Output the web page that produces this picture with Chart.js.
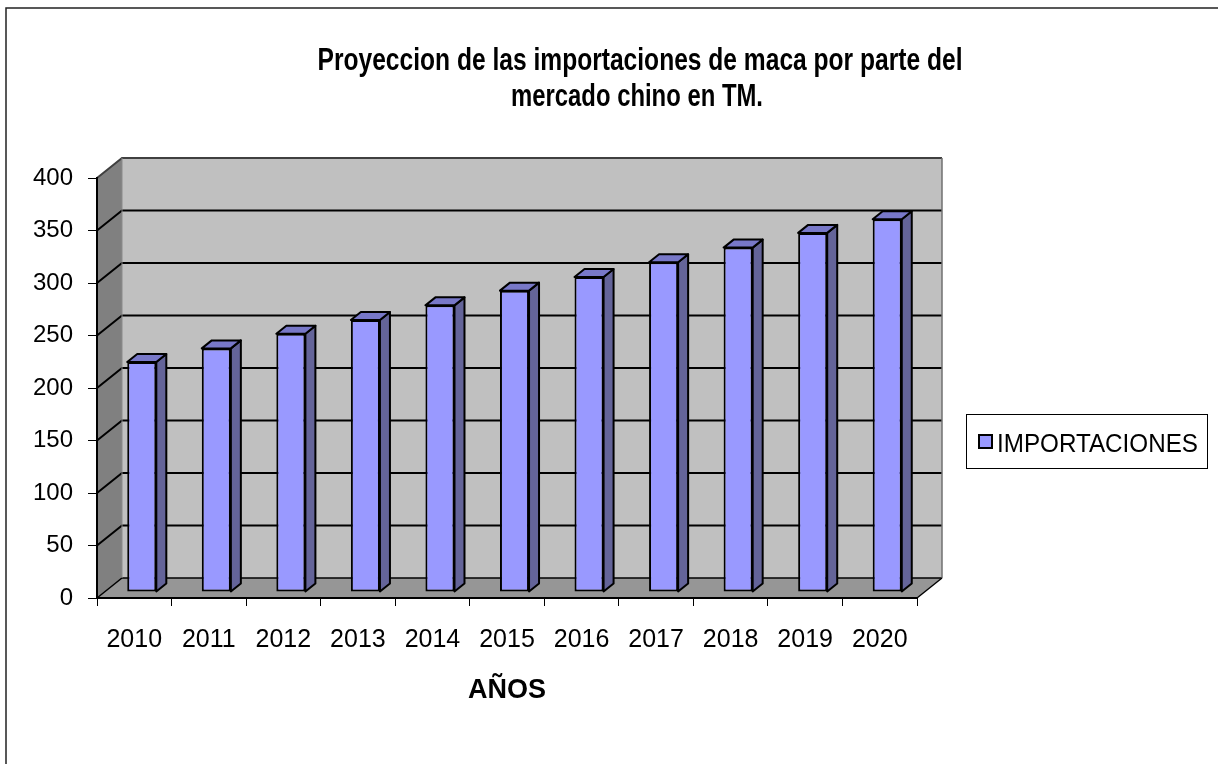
<!DOCTYPE html>
<html><head><meta charset="utf-8">
<script src="https://cdn.jsdelivr.net/npm/chart.js@4/dist/chart.umd.min.js"></script>
<style>html,body{margin:0;padding:0;background:#fff}canvas{display:block}</style>
</head><body>
<canvas id="c" width="1218" height="764"></canvas>
<script>
// ---- data ----
const years = ['2010','2011','2012','2013','2014','2015','2016','2017','2018','2019','2020'];
const importaciones = [219, 232, 246, 259, 273, 287, 300, 314, 328, 342, 355];
const seriesLabel = 'IMPORTACIONES';
const titleLines = ['Proyeccion de las importaciones de maca por parte del', 'mercado chino en TM.'];
const xAxisTitle = 'AÑOS';
const yMin = 0, yMax = 400, yStep = 50;

// ---- styling ----
const FONT = '"Liberation Sans", Arial, Helvetica, sans-serif';
const WALL = {dx: 25, dy: -20};
const BAR_OFF = {dx: 7.5, dy: -6};
const BAR_DEPTH = {dx: 10, dy: -8};
const COL = {front: '#9999ff', side: '#646499', top: '#7878c8', back: '#c0c0c0', left: '#808080', floor: '#969696'};

Chart.defaults.font.family = FONT;
Chart.defaults.color = '#000';

function poly(ctx, pts, fill, stroke, lw) {
  ctx.beginPath();
  ctx.moveTo(pts[0][0], pts[0][1]);
  for (let i = 1; i < pts.length; i++) ctx.lineTo(pts[i][0], pts[i][1]);
  ctx.closePath();
  if (fill) { ctx.fillStyle = fill; ctx.fill(); }
  if (stroke) { ctx.strokeStyle = stroke; ctx.lineWidth = lw || 1; ctx.stroke(); }
}
function line(ctx, pts, color, lw) {
  ctx.beginPath();
  ctx.moveTo(pts[0][0], pts[0][1]);
  for (let i = 1; i < pts.length; i++) ctx.lineTo(pts[i][0], pts[i][1]);
  ctx.strokeStyle = color; ctx.lineWidth = lw; ctx.stroke();
}

const excel3d = {
  id: 'excel3d',
  beforeDraw(chart) {
    const {ctx, chartArea: a} = chart;
    const y = chart.scales.y;
    const dx = WALL.dx, dy = WALL.dy;
    ctx.save();
    ctx.fillStyle = '#fff';
    ctx.fillRect(0, 0, chart.width, chart.height);
    // outer frame (top and left edges visible)
    line(ctx, [[6, chart.height], [6, 8], [chart.width, 8]], '#222', 1.5);

    const y0 = y.getPixelForValue(yMin), yT = y.getPixelForValue(yMax);
    // back wall
    poly(ctx, [[a.left + dx, yT + dy], [a.right + dx, yT + dy], [a.right + dx, y0 + dy], [a.left + dx, y0 + dy]], COL.back);
    // left wall
    poly(ctx, [[a.left, yT], [a.left + dx, yT + dy], [a.left + dx, y0 + dy], [a.left, y0]], COL.left);
    // floor
    poly(ctx, [[a.left, y0], [a.left + dx, y0 + dy], [a.right + dx, y0 + dy], [a.right, y0]], COL.floor);

    // gridlines on walls
    for (let v = yMin; v <= yMax; v += yStep) {
      const yy = y.getPixelForValue(v);
      const c = (v === yMax) ? '#404040' : '#000';
      const lw = (v === yMin) ? 1.5 : 2;
      line(ctx, [[a.left, yy], [a.left + dx, yy + dy], [a.right + dx, yy + dy]], c, lw);
    }
    // back wall right edge
    line(ctx, [[a.right + dx, yT + dy], [a.right + dx, y0 + dy]], '#707070', 1.5);
    // left wall back edge
    line(ctx, [[a.left + dx, yT + dy], [a.left + dx, y0 + dy]], '#8a8a8a', 1);
    // floor right edge
    line(ctx, [[a.right, y0], [a.right + dx, y0 + dy]], '#000', 1.5);
    ctx.restore();
  },
  beforeDatasetsDraw(chart) {
    chart.ctx.save();
    chart.ctx.translate(BAR_OFF.dx, BAR_OFF.dy);
  },
  afterDatasetsDraw(chart) {
    const ctx = chart.ctx;
    const meta = chart.getDatasetMeta(0);
    const bx = BAR_DEPTH.dx, by = BAR_DEPTH.dy;
    ctx.lineJoin = 'round';
    meta.data.forEach(el => {
      const {x, y, base, width} = el.getProps(['x', 'y', 'base', 'width'], true);
      const l = x - width / 2, r = x + width / 2;
      poly(ctx, [[r, y], [r + bx, y + by], [r + bx, base + by], [r, base]], COL.side, '#000', 2);
      poly(ctx, [[l, y], [l + bx, y + by], [r + bx, y + by], [r, y]], COL.top, '#000', 2);
    });
    ctx.restore();
  },
  afterDraw(chart) {
    const ctx = chart.ctx;
    ctx.save();
    // title
    ctx.fillStyle = '#000';
    ctx.textAlign = 'center';
    ctx.textBaseline = 'alphabetic';
    ctx.font = 'bold 31px ' + FONT;
    ctx.fillText(titleLines[0], 640, 70, 645);
    ctx.fillText(titleLines[1], 637, 106, 252);
    // legend
    ctx.lineWidth = 1;
    ctx.strokeStyle = '#000';
    ctx.strokeRect(966.5, 414.5, 241, 54);
    ctx.fillStyle = chart.data.datasets[0].backgroundColor;
    ctx.fillRect(979, 435, 13, 13);
    ctx.lineWidth = 2;
    ctx.strokeRect(979, 435, 13, 13);
    ctx.fillStyle = '#000';
    ctx.textAlign = 'left';
    ctx.font = '25px ' + FONT;
    ctx.fillText(chart.data.datasets[0].label, 997, 452, 201);
    ctx.restore();
  }
};

new Chart(document.getElementById('c'), {
  type: 'bar',
  data: {
    labels: years,
    datasets: [{
      label: seriesLabel,
      data: importaciones,
      backgroundColor: COL.front,
      borderColor: '#000',
      borderWidth: 2,
      borderSkipped: false,
      categoryPercentage: 1,
      barPercentage: 0.39,
      clip: false
    }]
  },
  options: {
    responsive: false,
    devicePixelRatio: 1,
    animation: false,
    layout: {padding: {left: 0, top: 178, right: 301, bottom: 0}},
    plugins: {legend: {display: false}, title: {display: false}, tooltip: {enabled: false}},
    scales: {
      x: {
        afterFit(s) { s.height = 166; },
        offset: true,
        grid: {offset: true, drawOnChartArea: false, drawTicks: true, tickLength: 8, color: '#000', lineWidth: 1},
        border: {display: true, color: '#000', width: 2},
        ticks: {font: {size: 25}, color: '#000', padding: 19, maxRotation: 0},
        title: {display: true, text: xAxisTitle, font: {size: 27, weight: 'bold'}, color: '#000', padding: {top: 0, bottom: 57}}
      },
      y: {
        afterFit(s) { s.width = 97; },
        min: yMin, max: yMax,
        grid: {drawOnChartArea: false, drawTicks: true, tickLength: 9, color: '#000', lineWidth: 1},
        border: {display: true, color: '#000', width: 2},
        ticks: {stepSize: yStep, font: {size: 24}, color: '#000', padding: 15}
      }
    }
  },
  plugins: [excel3d]
});
</script>
</body></html>
